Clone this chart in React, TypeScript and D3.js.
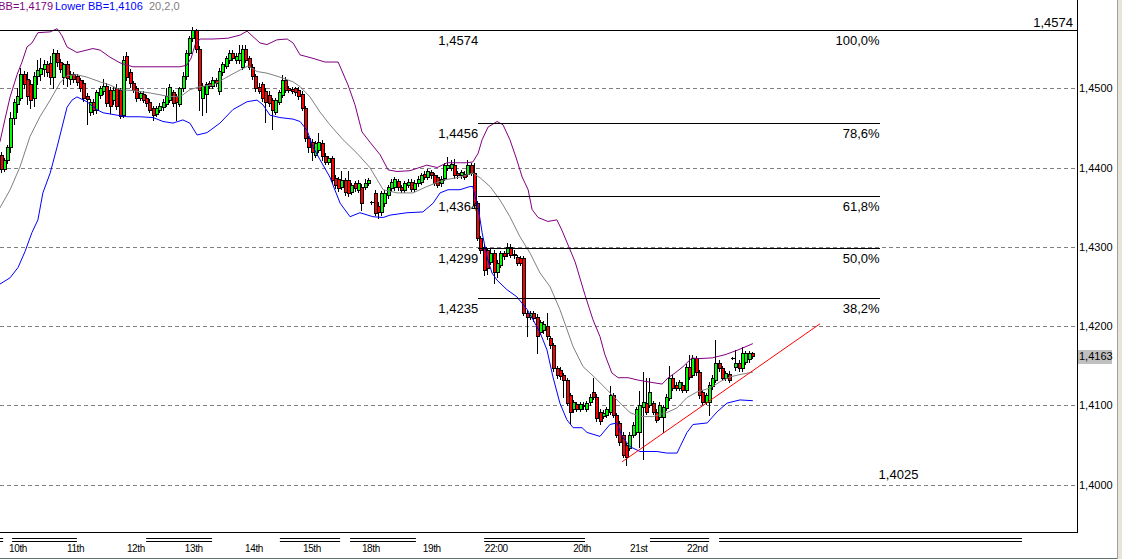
import React from "react";
import * as d3 from "d3";

// [open, high, low, close]
const candles: [number, number, number, number][] = [
  [1.4416,1.4419,1.4394,1.4398],[1.4398,1.4412,1.4396,1.4410],[1.4410,1.4428,1.4406,1.4426],[1.4426,1.4470,1.4420,1.4462],
  [1.4462,1.4486,1.4455,1.4483],[1.4480,1.4500,1.4470,1.4490],[1.4488,1.4525,1.4485,1.4518],[1.4518,1.4522,1.4500,1.4505],
  [1.4512,1.4520,1.4480,1.4490],[1.4505,1.4510,1.4475,1.4485],[1.4488,1.4520,1.4478,1.4515],[1.4515,1.4535,1.4505,1.4523],
  [1.4518,1.4538,1.4510,1.4526],[1.4524,1.4535,1.4515,1.4530],[1.4530,1.4534,1.4516,1.4520],[1.4532,1.4540,1.4505,1.4514],
  [1.4514,1.4550,1.4500,1.4545],[1.4545,1.4548,1.4528,1.4533],[1.4533,1.4537,1.4520,1.4524],[1.4514,1.4532,1.4505,1.4530],
  [1.4530,1.4534,1.4503,1.4513],[1.4511,1.4522,1.4505,1.4518],[1.4518,1.4521,1.4508,1.4512],[1.4515,1.4518,1.4504,1.4508],
  [1.4510,1.4513,1.4496,1.4500],[1.4506,1.4510,1.4484,1.4488],[1.4490,1.4494,1.4455,1.4486],[1.4470,1.4487,1.4466,1.4483],
  [1.4483,1.4486,1.4468,1.4473],[1.4472,1.4498,1.4469,1.4495],[1.4492,1.4503,1.4488,1.4500],[1.4496,1.4512,1.4493,1.4503],
  [1.4503,1.4507,1.4477,1.4481],[1.4498,1.4501,1.4469,1.4478],[1.4485,1.4501,1.4480,1.4498],[1.4500,1.4505,1.4474,1.4478],
  [1.4498,1.4500,1.4462,1.4465],[1.4466,1.4540,1.4464,1.4535],[1.4540,1.4546,1.4510,1.4514],[1.4520,1.4524,1.4502,1.4506],
  [1.4506,1.4509,1.4495,1.4498],[1.4500,1.4503,1.4484,1.4488],[1.4488,1.4497,1.4485,1.4494],[1.4493,1.4496,1.4482,1.4485],
  [1.4488,1.4491,1.4478,1.4481],[1.4483,1.4486,1.4470,1.4473],[1.4475,1.4478,1.4460,1.4466],[1.4468,1.4478,1.4465,1.4475],
  [1.4473,1.4481,1.4470,1.4478],[1.4476,1.4486,1.4472,1.4483],[1.4480,1.4500,1.4478,1.4490],[1.4485,1.4505,1.4482,1.4502],
  [1.4495,1.4498,1.4478,1.4481],[1.4490,1.4493,1.4460,1.4482],[1.4480,1.4502,1.4477,1.4500],[1.4500,1.4520,1.4497,1.4516],
  [1.4515,1.4548,1.4512,1.4545],[1.4545,1.4566,1.4542,1.4563],[1.4563,1.4577,1.4560,1.4573],[1.4573,1.4575,1.4546,1.4550],
  [1.4550,1.4553,1.4472,1.4498],[1.4488,1.4506,1.4466,1.4503],[1.4493,1.4508,1.4470,1.4505],[1.4506,1.4509,1.4500,1.4503],
  [1.4503,1.4514,1.4500,1.4510],[1.4510,1.4513,1.4503,1.4506],[1.4496,1.4525,1.4493,1.4522],[1.4520,1.4533,1.4517,1.4530],
  [1.4528,1.4541,1.4525,1.4538],[1.4535,1.4548,1.4532,1.4545],[1.4545,1.4548,1.4535,1.4538],[1.4535,1.4544,1.4532,1.4540],
  [1.4535,1.4554,1.4532,1.4545],[1.4527,1.4555,1.4524,1.4550],[1.4550,1.4554,1.4533,1.4535],[1.4538,1.4541,1.4524,1.4527],
  [1.4527,1.4530,1.4512,1.4515],[1.4515,1.4518,1.4496,1.4500],[1.4502,1.4506,1.4494,1.4497],[1.4505,1.4508,1.4484,1.4488],
  [1.4497,1.4500,1.4458,1.4483],[1.4492,1.4496,1.4477,1.4481],[1.4485,1.4488,1.4449,1.4472],[1.4470,1.4488,1.4467,1.4485],
  [1.4483,1.4498,1.4480,1.4495],[1.4492,1.4517,1.4489,1.4510],[1.4510,1.4514,1.4495,1.4498],[1.4500,1.4503,1.4495,1.4498],
  [1.4499,1.4502,1.4494,1.4497],[1.4500,1.4502,1.4492,1.4495],[1.4498,1.4501,1.4487,1.4490],[1.4493,1.4496,1.4472,1.4475],
  [1.4475,1.4478,1.4433,1.4437],[1.4437,1.4440,1.4420,1.4426],[1.4432,1.4436,1.4409,1.4420],[1.4416,1.4434,1.4413,1.4431],
  [1.4422,1.4444,1.4419,1.4432],[1.4431,1.4435,1.4410,1.4414],[1.4414,1.4418,1.4404,1.4407],[1.4407,1.4415,1.4404,1.4412],
  [1.4412,1.4415,1.4380,1.4384],[1.4387,1.4390,1.4374,1.4378],[1.4385,1.4388,1.4370,1.4374],[1.4376,1.4395,1.4373,1.4384],
  [1.4384,1.4387,1.4365,1.4369],[1.4384,1.4395,1.4364,1.4368],[1.4369,1.4381,1.4366,1.4378],[1.4380,1.4383,1.4370,1.4374],
  [1.4372,1.4384,1.4369,1.4380],[1.4376,1.4379,1.4346,1.4355],[1.4376,1.4386,1.4373,1.4381],[1.4381,1.4387,1.4378,1.4384],
  [1.4356,1.4358,1.4354,1.4356],[1.4368,1.4372,1.4340,1.4343],[1.4352,1.4356,1.4336,1.4344],[1.4344,1.4371,1.4340,1.4368],
  [1.4355,1.4372,1.4352,1.4368],[1.4365,1.4378,1.4362,1.4375],[1.4374,1.4385,1.4371,1.4382],[1.4375,1.4388,1.4372,1.4385],
  [1.4383,1.4386,1.4372,1.4375],[1.4375,1.4378,1.4369,1.4372],[1.4372,1.4383,1.4369,1.4380],[1.4378,1.4385,1.4375,1.4382],
  [1.4382,1.4385,1.4370,1.4373],[1.4373,1.4384,1.4370,1.4381],[1.4380,1.4389,1.4377,1.4386],[1.4382,1.4393,1.4379,1.4390],
  [1.4392,1.4395,1.4385,1.4388],[1.4388,1.4398,1.4385,1.4395],[1.4394,1.4397,1.4387,1.4390],[1.4390,1.4393,1.4378,1.4381],
  [1.4388,1.4391,1.4375,1.4378],[1.4380,1.4389,1.4377,1.4386],[1.4387,1.4406,1.4384,1.4403],[1.4400,1.4413,1.4397,1.4403],
  [1.4400,1.4410,1.4397,1.4404],[1.4403,1.4411,1.4387,1.4390],[1.4393,1.4396,1.4387,1.4390],[1.4390,1.4397,1.4387,1.4394],
  [1.4392,1.4395,1.4385,1.4388],[1.4392,1.4410,1.4389,1.4403],[1.4403,1.4406,1.4390,1.4393],[1.4393,1.4406,1.4350,1.4353],
  [1.4355,1.4358,1.4308,1.4311],[1.4311,1.4314,1.4292,1.4296],[1.4300,1.4303,1.4265,1.4271],[1.4296,1.4299,1.4266,1.4273],
  [1.4281,1.4298,1.4278,1.4292],[1.4292,1.4296,1.4255,1.4268],[1.4268,1.4283,1.4262,1.4280],[1.4277,1.4295,1.4274,1.4292],
  [1.4292,1.4295,1.4285,1.4288],[1.4292,1.4305,1.4289,1.4300],[1.4300,1.4303,1.4287,1.4290],[1.4291,1.4296,1.4286,1.4290],
  [1.4287,1.4290,1.4277,1.4280],[1.4286,1.4289,1.4277,1.4280],[1.4286,1.4289,1.4214,1.4217],[1.4217,1.4220,1.4187,1.4212],
  [1.4212,1.4219,1.4209,1.4216],[1.4216,1.4219,1.4207,1.4210],[1.4212,1.4215,1.4166,1.4187],[1.4193,1.4208,1.4190,1.4205],
  [1.4195,1.4206,1.4192,1.4203],[1.4200,1.4217,1.4184,1.4187],[1.4185,1.4188,1.4173,1.4176],[1.4176,1.4179,1.4144,1.4147],
  [1.4147,1.4150,1.4135,1.4138],[1.4145,1.4148,1.4134,1.4137],[1.4138,1.4141,1.4111,1.4132],[1.4132,1.4135,1.4100,1.4103],
  [1.4113,1.4116,1.4078,1.4092],[1.4095,1.4107,1.4092,1.4104],[1.4102,1.4105,1.4093,1.4096],[1.4096,1.4105,1.4093,1.4102],
  [1.4101,1.4104,1.4096,1.4099],[1.4096,1.4106,1.4093,1.4103],[1.4104,1.4114,1.4101,1.4111],[1.4117,1.4135,1.4108,1.4111],
  [1.4111,1.4114,1.4080,1.4084],[1.4092,1.4095,1.4077,1.4080],[1.4087,1.4094,1.4084,1.4091],[1.4088,1.4098,1.4085,1.4095],
  [1.4092,1.4125,1.4089,1.4113],[1.4113,1.4116,1.4085,1.4088],[1.4088,1.4091,1.4060,1.4063],[1.4078,1.4081,1.4050,1.4054],
  [1.4063,1.4066,1.4035,1.4038],[1.4050,1.4053,1.4025,1.4035],[1.4047,1.4066,1.4044,1.4063],[1.4063,1.4079,1.4060,1.4076],
  [1.4067,1.4098,1.4064,1.4095],[1.4067,1.4118,1.4048,1.4101],[1.4098,1.4142,1.4032,1.4105],[1.4103,1.4135,1.4089,1.4092],
  [1.4101,1.4135,1.4098,1.4117],[1.4103,1.4106,1.4089,1.4092],[1.4092,1.4095,1.4079,1.4082],[1.4086,1.4104,1.4083,1.4101],
  [1.4086,1.4101,1.4067,1.4098],[1.4097,1.4114,1.4094,1.4111],[1.4110,1.4150,1.4107,1.4135],[1.4135,1.4138,1.4119,1.4122],
  [1.4126,1.4129,1.4119,1.4122],[1.4122,1.4132,1.4119,1.4129],[1.4126,1.4129,1.4117,1.4120],[1.4120,1.4152,1.4117,1.4149],
  [1.4149,1.4164,1.4133,1.4136],[1.4139,1.4164,1.4136,1.4160],[1.4160,1.4163,1.4139,1.4142],[1.4142,1.4145,1.4110,1.4113],
  [1.4117,1.4120,1.4102,1.4105],[1.4105,1.4116,1.4102,1.4113],[1.4105,1.4129,1.4088,1.4126],[1.4124,1.4138,1.4121,1.4135],
  [1.4132,1.4182,1.4129,1.4154],[1.4154,1.4157,1.4144,1.4147],[1.4147,1.4150,1.4132,1.4135],[1.4135,1.4144,1.4132,1.4141],
  [1.4140,1.4143,1.4129,1.4132],[1.4160,1.4161,1.4159,1.4160],[1.4148,1.4170,1.4145,1.4154],[1.4154,1.4157,1.4144,1.4147],
  [1.4147,1.4174,1.4144,1.4166],[1.4155,1.4169,1.4152,1.4166],[1.4158,1.4169,1.4155,1.4166],[1.4166,1.4168,1.4160,1.4163],
];

// Bollinger bands (20,2,0) read as [bar index, price]
const upperBand: [number, number][] = [
  [-0.5,1.4432],[1,1.4460],[2.6,1.4489],[4.7,1.4517],[6.2,1.4533],[7.7,1.4552],[9.2,1.4557],[11,1.4570],[14.7,1.4571],
  [16.8,1.4575],[18.3,1.4566],[19.8,1.4552],[22.8,1.4545],[27.6,1.4550],[29.8,1.4548],[32.8,1.4539],[35.8,1.4532],
  [39.7,1.4527],[44.9,1.4527],[50,1.4527],[53.9,1.4527],[56,1.4529],[57.3,1.4538],[58.5,1.4555],[60,1.4562],[63.9,1.4562],
  [68.4,1.4563],[72.1,1.4567],[74.2,1.4572],[76,1.4565],[78.1,1.4557],[80.2,1.4555],[83.2,1.4561],[86.3,1.4562],
  [88.1,1.4557],[90.2,1.4542],[93.8,1.4538],[97.7,1.4533],[101.7,1.4533],[104.7,1.4504],[106.8,1.4479],[108.9,1.4445],
  [111.3,1.4432],[114.4,1.4416],[116.8,1.4397],[119.5,1.4395],[123.4,1.4396],[128.5,1.4403],[131.6,1.4400],[134.6,1.4406],
  [140.6,1.4406],[142.4,1.4407],[144,1.4418],[145.2,1.4435],[147,1.4451],[149.7,1.4458],[151.5,1.4454],[153.6,1.4435],
  [155.5,1.4412],[157.3,1.4388],[159.1,1.4372],[160.3,1.4347],[162.1,1.4337],[165.1,1.4332],[167.8,1.4334],[169.3,1.4321],
  [173.3,1.4281],[176.3,1.4239],[178.7,1.4208],[180.8,1.4187],[182.3,1.4164],[184.4,1.4141],[186.3,1.4135],[189.3,1.4135],
  [192.3,1.4132],[196.5,1.4129],[199.6,1.4127],[201.4,1.4135],[203.5,1.4141],[205.9,1.4149],[208.6,1.4160],[210.4,1.4159],
  [214.7,1.4160],[218.6,1.4164],[222.5,1.4170],[227,1.4178],
];
const middleBand: [number, number][] = [
  [-0.5,1.4349],[2.6,1.4372],[5.6,1.4401],[8.6,1.4439],[11.6,1.4464],[14.7,1.4485],[17.7,1.4507],[19.8,1.4516],
  [22.8,1.4517],[25.8,1.4514],[29.8,1.4508],[32.8,1.4504],[35.8,1.4498],[39.7,1.4497],[44.9,1.4494],[50,1.4490],
  [53.9,1.4489],[56.9,1.4498],[60,1.4502],[63.9,1.4504],[68.1,1.4514],[72.1,1.4523],[74.5,1.4528],[77.2,1.4521],
  [80.2,1.4519],[84.1,1.4514],[88.1,1.4508],[90.2,1.4502],[93.2,1.4489],[96.2,1.4470],[99.2,1.4454],[103.2,1.4435],
  [107.4,1.4418],[111.3,1.4400],[115.3,1.4372],[119.5,1.4368],[124.3,1.4368],[128.5,1.4376],[133.4,1.4384],[138.5,1.4388],
  [142.4,1.4393],[144.6,1.4387],[147.6,1.4376],[150.6,1.4359],[153.6,1.4338],[156.6,1.4313],[159.7,1.4292],[162.7,1.4267],
  [165.7,1.4250],[168.7,1.4221],[172.7,1.4174],[175.7,1.4149],[179.3,1.4135],[182.9,1.4120],[186.9,1.4103],[189.9,1.4091],
  [192.9,1.4086],[196.8,1.4086],[201,1.4091],[204.1,1.4097],[207.1,1.4110],[210.1,1.4117],[214.1,1.4122],[217.1,1.4130],
  [220.1,1.4136],[223.1,1.4139],[227,1.4142],
];
const lowerBand: [number, number][] = [
  [-0.5,1.4253],[2.6,1.4261],[5,1.4274],[7.1,1.4294],[9.2,1.4318],[11,1.4334],[12.5,1.4368],[14.7,1.4393],[16.8,1.4426],
  [18.3,1.4451],[19.8,1.4476],[21.3,1.4485],[22.8,1.4489],[25.8,1.4483],[28.8,1.4473],[30.7,1.4469],[34.9,1.4466],
  [37.9,1.4464],[41.8,1.4464],[45.8,1.4463],[48.8,1.4458],[51.8,1.4456],[54.8,1.4460],[56.9,1.4456],[59.1,1.4441],
  [62.1,1.4444],[66,1.4456],[69.9,1.4473],[74.2,1.4483],[77.2,1.4485],[79,1.4479],[81.1,1.4466],[84.1,1.4463],
  [88.1,1.4461],[90.2,1.4458],[92.3,1.4447],[94.1,1.4426],[96.2,1.4410],[99.2,1.4388],[102.3,1.4355],[105.3,1.4338],
  [108.3,1.4343],[112.2,1.4338],[115.3,1.4337],[117.4,1.4340],[122.5,1.4343],[127.3,1.4344],[130.4,1.4355],[132.5,1.4368],
  [134.9,1.4372],[138.5,1.4372],[141.5,1.4376],[142.4,1.4376],[143.1,1.4363],[144,1.4350],[145.2,1.4318],[146.7,1.4287],
  [148.2,1.4267],[149.7,1.4258],[152.7,1.4246],[155.7,1.4237],[158.8,1.4221],[160.6,1.4208],[162.7,1.4192],[164.8,1.4170],
  [166.6,1.4136],[168.7,1.4103],[170.8,1.4082],[172.7,1.4072],[175.4,1.4072],[176.9,1.4066],[180.8,1.4061],[183.8,1.4076],
  [185.9,1.4078],[187.5,1.4061],[189.9,1.4048],[192.9,1.4042],[198,1.4042],[201,1.4040],[204.1,1.4040],[205,1.4048],
  [207.1,1.4066],[208.9,1.4076],[213.2,1.4078],[216.2,1.4092],[219.2,1.4103],[223.1,1.4107],[227,1.4106],
];

const priceTicks = [1.4, 1.41, 1.42, 1.43, 1.44, 1.45];
const dayLabels = ["10th", "11th", "12th", "13th", "14th", "15th", "18th", "19th", "22:00", "20th", "21st", "22nd"];
const dayLabelBars = [2.3, 19.8, 37.9, 55.4, 73.6, 91.1, 108.9, 127.3, 146, 172.7, 189.9, 207.1];
const daySpans: [number, number][] = [
  [-0.5, 0.5], [3.2, 22.8], [43.7, 63.6], [84.1, 102.3], [105.3, 125.2], [145.8, 176.3], [195.9, 213.8], [216.8, 308.3],
];
const fibLevels = [1.4574, 1.4456, 1.4364, 1.4299, 1.4235];
const fibPercents = ["100,0%", "78,6%", "61,8%", "50,0%", "38,2%"];
const fibStartBar = 144;
const fibEndBar = 265.3;
const fibLow = 1.4025;
const fibLowLabelBar = 277;
const trendLine: [number, number][] = [[187.5, 1.4029], [247.3, 1.4203]];
const lastPrice = 1.4163;
const upperLast = 1.4179;
const lowerLast = 1.4106;
const bbParams = "20,2,0";

const W = 1122;
const H = 559;
const PLOT_R = 1077;
const PLOT_B = 532;
const FONT = "'Liberation Sans', Arial, sans-serif";

const fmt = (v: number) => d3.format(".4f")(v).replace(".", ",");

export default function App() {
  const x = d3.scaleLinear().domain([0, 325]).range([1.5, 1077.25]);
  const y = d3.scaleLinear().domain([1.4, 1.45]).range([484.8, 88.2]);
  const snap = (v: number) => Math.round(v) + 0.5;
  const line = d3.line<[number, number]>().x((d) => x(d[0])).y((d) => y(d[1]));

  return (
    <div style={{ position: "fixed", left: 0, top: 0 }}>
      <svg width={W} height={H} style={{ display: "block", background: "#fff" }} fontFamily={FONT}>
        <defs>
          <clipPath id="plot">
            <rect x={0} y={0} width={PLOT_R} height={PLOT_B} />
          </clipPath>
        </defs>
        <rect x={0} y={0} width={W} height={H} fill="#fff" />

        {/* grid */}
        {priceTicks.map((t) => (
          <line key={t} x1={0} x2={PLOT_R} y1={snap(y(t))} y2={snap(y(t))} stroke="#808080" strokeDasharray="4,3" />
        ))}

        <g clipPath="url(#plot)">
          {/* candles */}
          {candles.map(([o, h, l, c], i) => {
            const cx = Math.round(x(i));
            const top = Math.round(y(Math.max(o, c)));
            const bot = Math.round(y(Math.min(o, c)));
            const up = c > o;
            return (
              <g key={i}>
                <line x1={cx - 0.5} x2={cx - 0.5} y1={Math.round(y(h))} y2={Math.round(y(l)) + 1} stroke="#000" />
                {bot - top < 1 ? (
                  <line x1={cx - 2} x2={cx + 2} y1={top + 0.5} y2={top + 0.5} stroke="#000" />
                ) : (
                  <rect x={cx - 1.5} y={top + 0.5} width={3} height={bot - top} fill={up ? "#00ff00" : "#ff0000"} stroke="#000" />
                )}
              </g>
            );
          })}

          {/* bollinger */}
          <path d={line(middleBand) || ""} fill="none" stroke="#808080" strokeWidth={1} />
          <path d={line(upperBand) || ""} fill="none" stroke="#800080" strokeWidth={1} />
          <path d={line(lowerBand) || ""} fill="none" stroke="#0000ff" strokeWidth={1} />

          {/* fibonacci */}
          {fibLevels.map((lv, k) => (
            <line
              key={lv}
              x1={k === 0 ? 0 : Math.round(x(fibStartBar))}
              x2={k === 0 ? PLOT_R : Math.round(x(fibEndBar))}
              y1={snap(y(lv))}
              y2={snap(y(lv))}
              stroke="#000"
            />
          ))}
          {fibLevels.map((lv, k) => (
            <g key={"t" + lv} fontSize={13} fill="#000">
              <text x={x(fibStartBar)} y={y(lv) + 15} textAnchor="end">{fmt(lv)}</text>
              <text x={x(fibEndBar)} y={y(lv) + 15} textAnchor="end">{fibPercents[k]}</text>
            </g>
          ))}
          <text x={1073} y={y(fibLevels[0]) - 3} textAnchor="end" fontSize={13}>{fmt(fibLevels[0])}</text>
          <text x={x(fibLowLabelBar)} y={y(fibLow) + 14} textAnchor="end" fontSize={13}>{fmt(fibLow)}</text>

          {/* trend line */}
          <line x1={x(trendLine[0][0])} y1={y(trendLine[0][1])} x2={x(trendLine[1][0])} y2={y(trendLine[1][1])} stroke="#ff0000" />
        </g>

        {/* legend */}
        <g fontSize={11}>
          <text x={53} y={9.5} textAnchor="end" fill="#800080">{"Upper BB=" + fmt(upperLast)}</text>
          <text x={55} y={9.5} fill="#0000ff">{"Lower BB=" + fmt(lowerLast)}</text>
          <text x={149} y={9.5} fill="#808080">{bbParams}</text>
        </g>

        {/* frame */}
        <line x1={PLOT_R + 0.5} x2={PLOT_R + 0.5} y1={0} y2={PLOT_B + 1} stroke="#000" />
        <line x1={0} x2={PLOT_R + 1} y1={PLOT_B + 0.5} y2={PLOT_B + 0.5} stroke="#000" />

        {/* price axis */}
        {priceTicks.map((t) => (
          <text key={t} x={1079} y={y(t) + 4} fontSize={11} fill="#000">{fmt(t)}</text>
        ))}
        <rect x={1078} y={Math.round(y(lastPrice)) - 6} width={34} height={14} fill="#c0c0c0" />
        <text x={1079} y={y(lastPrice) + 4.5} fontSize={11} fill="#000">{fmt(lastPrice)}</text>

        {/* time axis */}
        {daySpans.map(([a, b], k) => (
          <g key={k} stroke="#000">
            <line x1={Math.max(0, x(a))} x2={x(b)} y1={538.5} y2={538.5} />
            <line x1={Math.max(0, x(a))} x2={x(b)} y1={541.5} y2={541.5} />
          </g>
        ))}
        {dayLabels.map((lab, k) => (
          <text key={lab} x={x(dayLabelBars[k])} y={552} fontSize={10} letterSpacing={-0.4} fill="#000">{lab}</text>
        ))}

        {/* window edges */}
        <line x1={0} x2={W} y1={558.5} y2={558.5} stroke="#5f7470" />
        <rect x={1117} y={0} width={5} height={H} fill="#e8e5d8" />
        <line x1={1117.5} x2={1117.5} y1={0} y2={H} stroke="#a0a0a0" />
      </svg>
    </div>
  );
}
